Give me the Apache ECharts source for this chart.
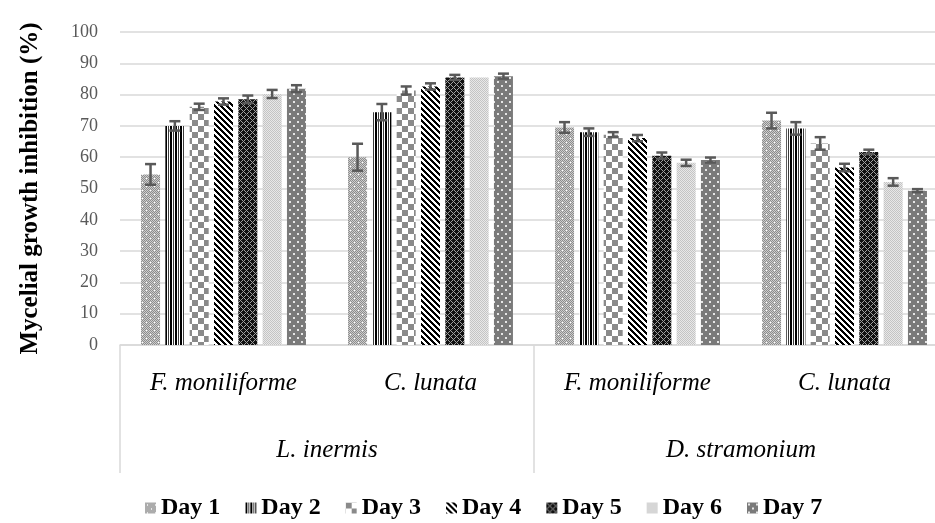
<!DOCTYPE html>
<html>
<head>
<meta charset="utf-8">
<script src="https://cdn.jsdelivr.net/npm/echarts@6/dist/echarts.min.js"></script>
<style>
  html, body { margin: 0; padding: 0; background: #fff; overflow: hidden; }
  /* a bit wider than the window: the plot area runs past the right edge */
  #chart { width: 948px; height: 523px; }
</style>
</head>
<body>
<div id="chart"></div>
<script>
// data
var pathogens = ["F. moniliforme", "C. lunata", "F. moniliforme", "C. lunata"];
var plants = ["L. inermis", "D. stramonium"];
var days = ["Day 1", "Day 2", "Day 3", "Day 4", "Day 5", "Day 6", "Day 7"];

var day1 = [54.5, 60.0, 69.5, 71.7];
var day2 = [70.0, 74.4, 68.0, 69.2];
var day3 = [76.1, 81.3, 67.2, 64.4];
var day4 = [77.8, 82.6, 66.1, 56.7];
var day5 = [78.5, 85.5, 60.5, 61.7];
var day6 = [80.2, 85.5, 58.2, 52.1];
var day7 = [81.9, 85.9, 59.1, 49.3];

var err1 = [3.3, 4.3, 1.7, 2.5];
var err2 = [1.5, 2.6, 1.2, 2.0];
var err3 = [1.0, 1.3, 0.8, 2.0];
var err4 = [1.0, 1.0, 1.0, 1.2];
var err5 = [1.2, 0.8, 1.0, 0.7];
var err6 = [1.3, 0.0, 1.0, 1.2];
var err7 = [1.1, 0.8, 0.8, 0.5];

var values = [day1, day2, day3, day4, day5, day6, day7];
var errors = [err1, err2, err3, err4, err5, err6, err7];

// fill patterns, Excel style
function tile(w, h, fn) {
  var c = document.createElement("canvas");
  c.width = w;
  c.height = h;
  var ctx = c.getContext("2d");
  for (var y = 0; y < h; y++) {
    for (var x = 0; x < w; x++) {
      ctx.fillStyle = fn(x, y);
      ctx.fillRect(x, y, 1, 1);
    }
  }
  return { image: c, repeat: "repeat" };
}

var patterns = [
  tile(8, 8, function (x, y) {
    if ((x === 2 && y === 2) || (x === 6 && y === 6)) return "#ffffff";
    return (x + y) % 2 === 0 ? "#8c8c8c" : "#cdcdcd";
  }),
  tile(5, 1, function (x) {
    return ["#000000", "#000000", "#ffffff", "#3a3a3a", "#ffffff"][x];
  }),
  tile(12, 12, function (x, y) {
    return (x < 6) === (y < 6) ? "#8a8a8a" : "#ffffff";
  }),
  tile(6, 6, function (x, y) {
    return (x - y + 6) % 6 < 3 ? "#000000" : "#ffffff";
  }),
  tile(6, 6, function (x, y) {
    return (x + y) % 6 === 0 || (x - y + 6) % 6 === 0 ? "#a0a0a0" : "#111111";
  }),
  tile(2, 2, function (x, y) {
    return (x + y) % 2 === 0 ? "#c4c4c4" : "#e8e8e8";
  }),
  tile(8, 8, function (x, y) {
    if ((x >= 1 && x <= 2 && y >= 1 && y <= 2) || (x >= 5 && x <= 6 && y >= 5 && y <= 6)) return "#e6e6e6";
    return "#7a7a7a";
  })
];

var font = "Liberation Serif";
var BAR_W = 19;
var BAR_GAP = "28%";

var series = [];
days.forEach(function (d, i) {
  series.push({
    name: d,
    type: "bar",
    data: values[i],
    barWidth: BAR_W,
    barGap: BAR_GAP,
    itemStyle: { color: patterns[i] },
    emphasis: { disabled: true }
  });
});
days.forEach(function (d, i) {
  series.push({
    name: d + " err",
    type: "custom",
    z: 5,
    silent: true,
    data: values[i].map(function (v, k) { return [k, v, errors[i][k]]; }),
    encode: { x: 0, y: 1 },
    renderItem: function (params, api) {
      var e = api.value(2);
      if (!e) return null;
      var k = api.value(0);
      var v = api.value(1);
      var layout = api.barLayout({ barWidth: BAR_W, barGap: BAR_GAP, count: days.length });
      var off = layout[i].offsetCenter;
      var hi = api.coord([k, v + e]);
      var lo = api.coord([k, v - e]);
      var cx = hi[0] + off;
      var style = { stroke: "#595959", lineWidth: 2.5 };
      return {
        type: "group",
        children: [
          { type: "line", shape: { x1: cx, y1: hi[1], x2: cx, y2: lo[1] }, style: style },
          { type: "line", shape: { x1: cx - 5.5, y1: hi[1], x2: cx + 5.5, y2: hi[1] }, style: style },
          { type: "line", shape: { x1: cx - 5.5, y1: lo[1], x2: cx + 5.5, y2: lo[1] }, style: style }
        ]
      };
    }
  });
});

var chart = echarts.init(document.getElementById("chart"));
chart.setOption({
  animation: false,
  backgroundColor: "#ffffff",
  grid: { left: 120, top: 32, right: 0, bottom: 178 },
  legend: {
    data: days,
    left: 140,
    top: 491,
    itemWidth: 11,
    itemHeight: 11,
    itemGap: 25,
    icon: "rect",
    textStyle: { fontFamily: font, fontWeight: "bold", fontSize: 24, color: "#000" }
  },
  xAxis: [
    {
      type: "category",
      data: pathogens,
      position: "bottom",
      axisLine: { lineStyle: { color: "#d9d9d9", width: 1.5 } },
      axisTick: { show: false },
      axisLabel: {
        margin: 26,
        fontFamily: font,
        fontStyle: "italic",
        fontSize: 25,
        color: "#000"
      }
    },
    {
      type: "category",
      data: plants,
      position: "bottom",
      offset: 0,
      axisLine: { show: false },
      axisTick: { show: true, length: 128, lineStyle: { color: "#d9d9d9", width: 1.5 } },
      axisLabel: {
        margin: 93,
        fontFamily: font,
        fontStyle: "italic",
        fontSize: 25,
        color: "#000"
      }
    }
  ],
  yAxis: {
    type: "value",
    min: 0,
    max: 100,
    interval: 10,
    name: "Mycelial growth inhibition (%)",
    nameLocation: "middle",
    nameRotate: 90,
    nameGap: 77,
    nameTextStyle: { fontFamily: font, fontWeight: "bold", fontSize: 25, color: "#000" },
    axisLine: { show: false },
    axisTick: { show: false },
    splitLine: { lineStyle: { color: "#d9d9d9", width: 1.5 } },
    axisLabel: { margin: 22, fontFamily: font, fontSize: 18, color: "#595959" }
  },
  series: series
});
</script>
</body>
</html>
